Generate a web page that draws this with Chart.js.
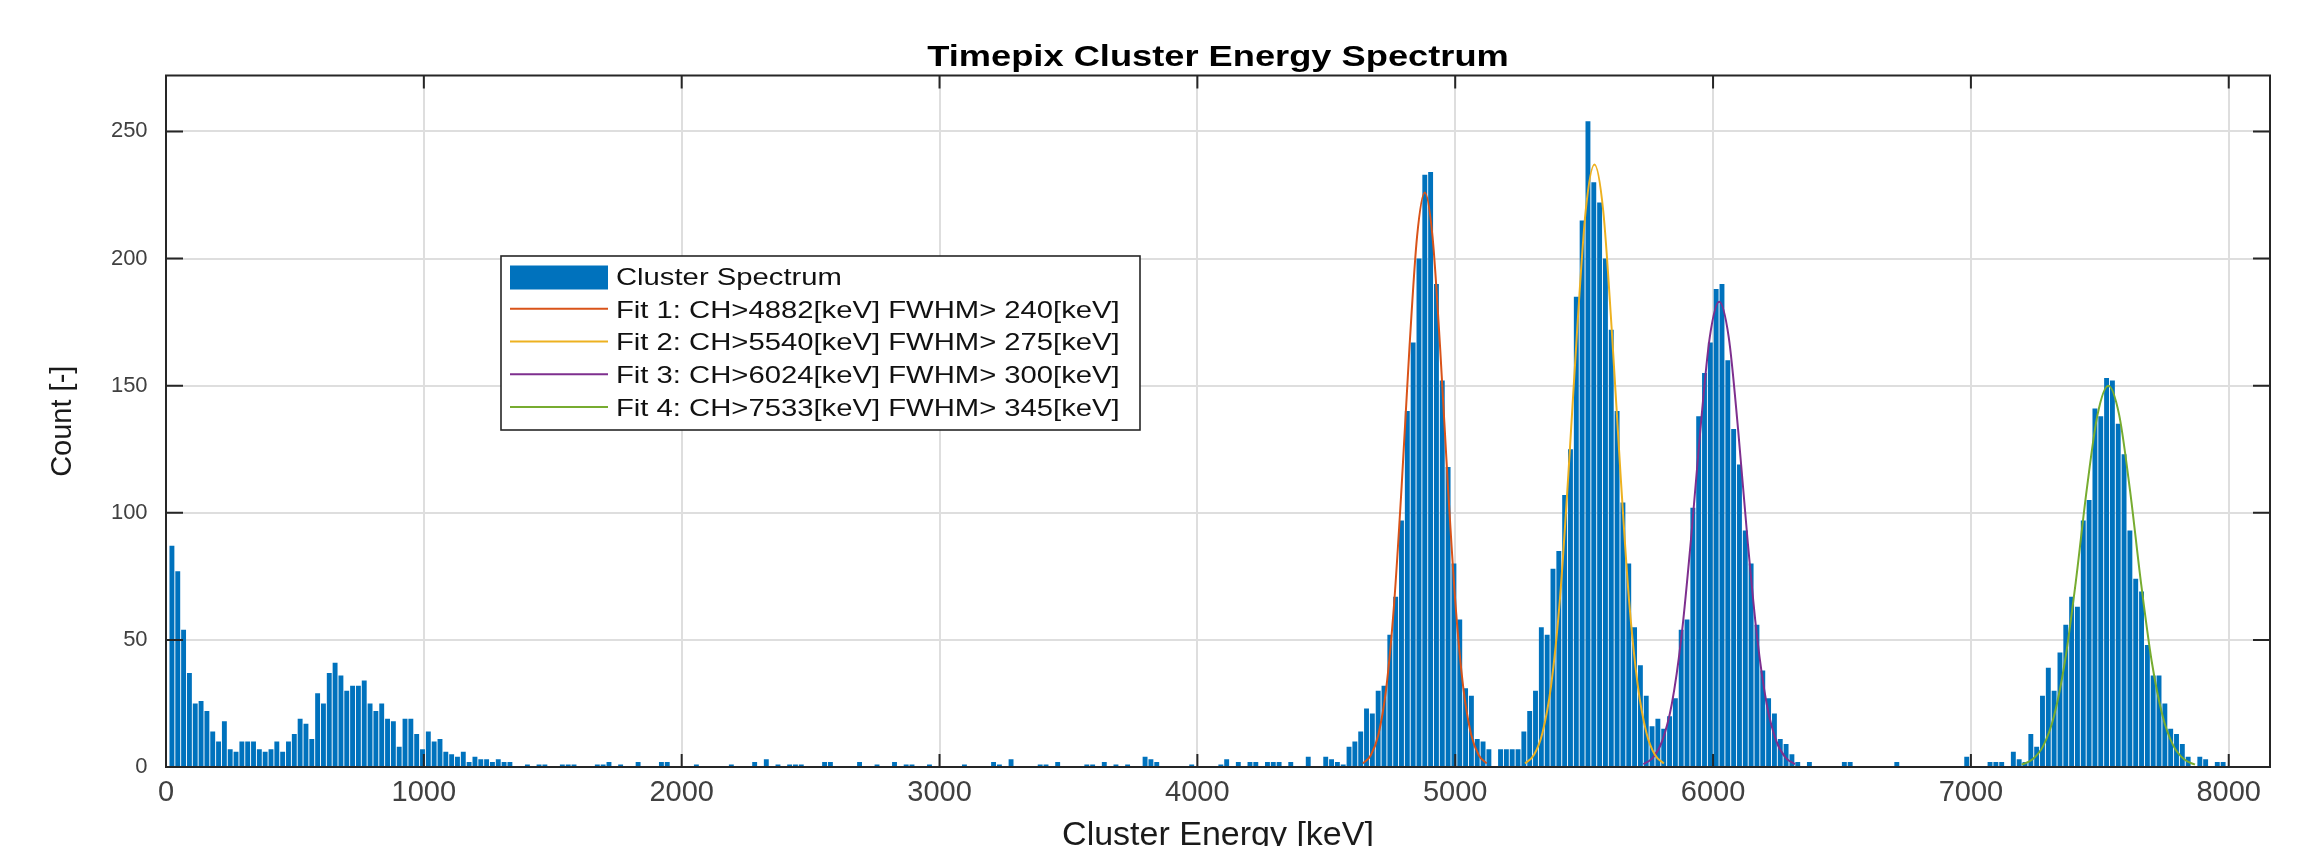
<!DOCTYPE html>
<html>
<head>
<meta charset="utf-8">
<title>Timepix Cluster Energy Spectrum</title>
<script src="https://cdn.jsdelivr.net/npm/chart.js@4.4.1/dist/chart.umd.min.js"></script>
<style>
  html, body { margin: 0; padding: 0; background: #fff; overflow: hidden; }
  #chart { display: block; }
</style>
</head>
<body>
<canvas id="chart" width="2314" height="846"></canvas>
<script>
// ─────────────────────────────────────────────
// Histogram bins (keV)
// ─────────────────────────────────────────────
const BIN_WIDTH    = 22.6;
const FIRST_CENTER = 23;

// counts per bin, split by region
const countsLow = [        // bins 0–58
  87, 77, 54, 37, 25, 26, 22, 14, 10, 18,
  7, 6, 10, 10, 10, 7, 6, 7, 10, 6,
  10, 13, 19, 17, 11, 29, 25, 37, 41, 36,
  30, 32, 32, 34, 25, 22, 25, 19, 18, 8,
  19, 19, 13, 7, 14, 10, 11, 6, 5, 4,
  6, 2, 4, 3, 3, 2, 3, 2, 2,
];
const countsFlat = [       // bins 59–199
  0, 0, 1, 0, 1, 1, 0, 0, 1, 1,
  1, 0, 0, 0, 1, 1, 2, 0, 1, 0,
  0, 2, 0, 0, 0, 2, 2, 0, 0, 0,
  0, 1, 0, 0, 0, 0, 0, 1, 0, 0,
  0, 2, 0, 3, 0, 1, 0, 1, 1, 1,
  0, 0, 0, 2, 2, 0, 0, 0, 0, 2,
  0, 0, 1, 0, 0, 2, 0, 1, 1, 0,
  0, 1, 0, 0, 0, 0, 0, 1, 0, 0,
  0, 0, 2, 1, 0, 3, 0, 0, 0, 0,
  1, 1, 0, 2, 0, 0, 0, 0, 1, 1,
  0, 2, 0, 1, 0, 1, 0, 0, 4, 3,
  2, 0, 0, 0, 0, 0, 1, 0, 0, 0,
  0, 1, 3, 0, 2, 0, 2, 2, 0, 2,
  2, 2, 0, 2, 0, 0, 4, 0, 0, 4, 3,
];
const countsPeaks12 = [    // bins 200–259
  2, 1, 8, 10, 14, 23, 21, 30, 32, 52,
  67, 97, 140, 167, 200, 233, 234, 190, 152, 118,
  80, 58, 31, 28, 11, 10, 7, 0, 7, 7,
  7, 7, 14, 22, 30, 55, 52, 78, 85, 107,
  125, 185, 215, 254, 230, 222, 200, 172, 140, 104,
  80, 55, 40, 28, 16, 19, 15, 20, 27, 54,
];
const countsPeak3 = [      // bins 260–299
  58, 102, 138, 155, 167, 188, 190, 160, 133, 119,
  93, 80, 56, 38, 27, 21, 11, 9, 5, 2,
  0, 2, 0, 0, 0, 0, 0, 2, 2, 0,
  0, 0, 0, 0, 0, 0, 2, 0, 0, 0,
];
const countsPeak4 = [      // bins 300–359
  0, 0, 0, 0, 0, 0, 0, 0, 4, 0,
  0, 0, 2, 2, 2, 0, 6, 3, 2, 13,
  8, 28, 39, 30, 45, 56, 67, 63, 97, 105,
  141, 138, 153, 152, 135, 123, 93, 74, 69, 48,
  36, 36, 25, 15, 13, 9, 4, 0, 4, 3,
  0, 2, 2, 0, 0, 0, 0, 0, 0, 0,
];

// ─────────────────────────────────────────────
// Gaussian fits as drawn (energy, count)
// ─────────────────────────────────────────────
const fit1Energy = [4642, 4672, 4702, 4732, 4762, 4792, 4822, 4852, 4882, 4912, 4942, 4972, 5002, 5032, 5062, 5092, 5122];
const fit1Counts = [1.4, 4.5, 12.7, 30.6, 62.8, 110, 164, 208.6, 226, 208.6, 164, 110, 62.8, 30.6, 12.7, 4.5, 1.4];
const fit2Energy = [5271, 5305, 5338, 5372, 5406, 5439, 5473, 5506, 5540, 5574, 5607, 5641, 5674, 5708, 5742, 5775, 5809];
const fit2Counts = [1.4, 4.7, 13.3, 32.1, 65.9, 115.4, 172.1, 218.8, 237, 218.8, 172.1, 115.4, 65.9, 32.1, 13.3, 4.7, 1.4];
const fit3Energy = [5730, 5766, 5803, 5840, 5877, 5914, 5951, 5987, 6024, 6061, 6097, 6134, 6171, 6208, 6245, 6282, 6318];
const fit3Counts = [1.1, 3.6, 10.3, 24.8, 50.9, 89.1, 132.9, 168.9, 183, 168.9, 132.9, 89.1, 50.9, 24.8, 10.3, 3.6, 1.1];
const fit4Energy = [7197, 7239, 7281, 7323, 7365, 7407, 7449, 7491, 7533, 7575, 7617, 7659, 7701, 7743, 7785, 7827, 7869];
const fit4Counts = [0.9, 3.0, 8.4, 20.3, 41.7, 73.0, 108.9, 138.5, 150, 138.5, 108.9, 73.0, 41.7, 20.3, 8.4, 3.0, 0.9];

const fitLabels = [
  'Fit 1: CH>4882[keV] FWHM> 240[keV]',
  'Fit 2: CH>5540[keV] FWHM> 275[keV]',
  'Fit 3: CH>6024[keV] FWHM> 300[keV]',
  'Fit 4: CH>7533[keV] FWHM> 345[keV]',
];

const xTicks = [0, 1000, 2000, 3000, 4000, 5000, 6000, 7000, 8000];
const yTicks = [0, 50, 100, 150, 200, 250];

const TITLE = 'Timepix Cluster Energy Spectrum';

// ─────────────────────────────────────────────
// Build datasets
// ─────────────────────────────────────────────
const counts = [...countsLow, ...countsFlat, ...countsPeaks12, ...countsPeak3, ...countsPeak4];
const barPoints = counts.map((c, i) => ({ x: FIRST_CENTER + i * BIN_WIDTH, y: c }));

const toPoints = (xs, ys) => xs.map((x, i) => ({ x, y: ys[i] }));

const FIT_COLORS = ['#D95319', '#EDB120', '#7E2F8E', '#77AC30'];
const fits = [
  toPoints(fit1Energy, fit1Counts),
  toPoints(fit2Energy, fit2Counts),
  toPoints(fit3Energy, fit3Counts),
  toPoints(fit4Energy, fit4Counts),
];

const FONT = '"Liberation Sans", Arial, Helvetica, sans-serif';
Chart.defaults.font.family = FONT;

// title and legend text in the source figure are stretched sideways
const TEXT_STRETCH = 1.25;

function stretchedText(ctx, text, x, y, align) {
  ctx.save();
  ctx.translate(x, y);
  ctx.scale(TEXT_STRETCH, 1);
  ctx.textAlign = align;
  ctx.fillText(text, 0, 0);
  ctx.restore();
}

// ─────────────────────────────────────────────
// Plugins: title, MATLAB-like box with inward ticks, boxed legend
// ─────────────────────────────────────────────
const plotTitle = {
  id: 'plotTitle',
  afterDraw(chart) {
    const { ctx, chartArea: a } = chart;
    ctx.save();
    ctx.font = `bold 29px ${FONT}`;
    ctx.fillStyle = '#000000';
    ctx.textBaseline = 'alphabetic';
    stretchedText(ctx, TITLE, (a.left + a.right) / 2, a.top - 9.5, 'center');
    ctx.restore();
  },
};

const frameTicks = {
  id: 'frameTicks',
  afterDatasetsDraw(chart) {
    const { ctx, chartArea: a, scales: { x, y } } = chart;
    ctx.save();
    ctx.strokeStyle = '#262626';
    ctx.lineWidth = 2;
    ctx.beginPath();
    xTicks.forEach((v) => {
      const px = x.getPixelForValue(v);
      ctx.moveTo(px, a.bottom); ctx.lineTo(px, a.bottom - 13);
      ctx.moveTo(px, a.top);    ctx.lineTo(px, a.top + 13);
    });
    yTicks.forEach((v) => {
      const py = y.getPixelForValue(v);
      ctx.moveTo(a.left, py);  ctx.lineTo(a.left + 17, py);
      ctx.moveTo(a.right, py); ctx.lineTo(a.right - 17, py);
    });
    ctx.stroke();
    ctx.strokeRect(a.left, a.top, a.right - a.left, a.bottom - a.top);
    ctx.restore();
  },
};

const boxLegend = {
  id: 'boxLegend',
  afterDraw(chart) {
    const { ctx, chartArea: a } = chart;
    const left = a.left + 335, top = a.top + 180.5, w = 639, h = 174;
    ctx.save();
    ctx.fillStyle = '#ffffff';
    ctx.fillRect(left, top, w, h);
    ctx.strokeStyle = '#262626';
    ctx.lineWidth = 1.6;
    ctx.strokeRect(left, top, w, h);
    ctx.font = `23.4px ${FONT}`;
    ctx.textBaseline = 'middle';
    chart.data.datasets.forEach((ds, i) => {
      const cy = top + 21.5 + i * 32.75;
      const sx = left + 9;
      if (ds.type === 'line') {
        ctx.strokeStyle = ds.borderColor;
        ctx.lineWidth = 2;
        ctx.beginPath();
        ctx.moveTo(sx, cy - 1.5); ctx.lineTo(sx + 98, cy - 1.5);
        ctx.stroke();
      } else {
        ctx.fillStyle = ds.backgroundColor;
        ctx.fillRect(sx, cy - 12, 98, 24);
      }
      ctx.fillStyle = '#111111';
      stretchedText(ctx, ds.label, sx + 106, cy + 1, 'left');
    });
    ctx.restore();
  },
};

// ─────────────────────────────────────────────
// Chart
// ─────────────────────────────────────────────
new Chart(document.getElementById('chart'), {
  type: 'bar',
  data: {
    datasets: [
      {
        type: 'bar',
        label: 'Cluster Spectrum',
        data: barPoints,
        backgroundColor: '#0072BD',
        borderWidth: 0,
        barPercentage: 0.84,
        categoryPercentage: 1,
        order: 2,
      },
      ...fits.map((pts, i) => ({
        type: 'line',
        label: fitLabels[i],
        data: pts,
        borderColor: FIT_COLORS[i],
        borderWidth: 2,
        pointRadius: 0,
        fill: false,
        cubicInterpolationMode: 'monotone',
        order: 1,
      })),
    ],
  },
  options: {
    responsive: false,
    animation: false,
    devicePixelRatio: 1,
    layout: { padding: { left: 0, right: 44, top: 75.5, bottom: 0 } },
    plugins: {
      legend: { display: false },
      tooltip: { enabled: false },
      title: { display: false },
    },
    scales: {
      x: {
        type: 'linear',
        min: 0,
        max: 8160,
        offset: false,
        afterBuildTicks: (s) => { s.ticks = xTicks.map((v) => ({ value: v })); },
        afterFit: (s) => { s.height = 79; },
        grid: { offset: false, color: '#dedede', lineWidth: 2, drawTicks: false },
        border: { display: false },
        ticks: {
          color: '#404040',
          font: { size: 29 },
          padding: 8.6,
          maxRotation: 0,
          autoSkip: false,
          callback: (v) => String(v),
        },
        title: {
          display: true,
          text: 'Cluster Energy [keV]',
          color: '#1a1a1a',
          font: { size: 34 },
          padding: { top: 0, bottom: -9.6 },
        },
      },
      y: {
        min: 0,
        max: 272,
        afterBuildTicks: (s) => { s.ticks = yTicks.map((v) => ({ value: v })); },
        afterFit: (s) => { s.width = 166; },
        grid: { color: '#dedede', lineWidth: 2, drawTicks: false },
        border: { display: false },
        ticks: { color: '#404040', font: { size: 22 }, padding: 18.4, callback: (v) => String(v) },
        title: {
          display: true,
          text: 'Count [-]',
          color: '#1a1a1a',
          font: { size: 29 },
          padding: { top: 45.6, bottom: 0 },
        },
      },
    },
  },
  plugins: [frameTicks, plotTitle, boxLegend],
});
</script>
</body>
</html>
